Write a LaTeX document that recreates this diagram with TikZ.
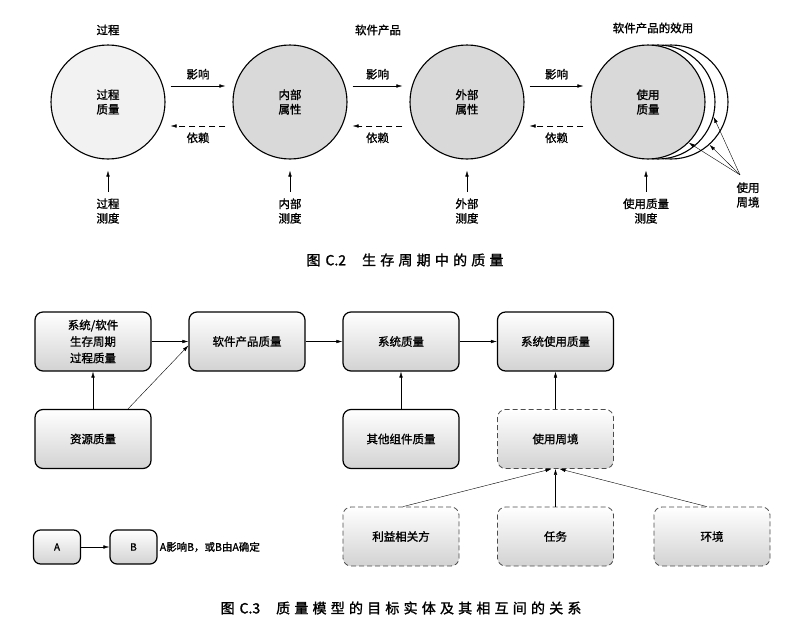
\documentclass[tikz,border=0pt]{standalone}
\usepackage{fontspec}
\setmainfont{Noto Sans CJK SC}[FakeBold=1.2]
\newfontfamily\capfont[LetterSpace=30,FakeBold=1.5]{Noto Sans CJK SC}
\newfontfamily\capnum[FakeBold=1.5]{Noto Sans CJK SC}
\usetikzlibrary{arrows.meta}
\begin{document}
\begin{tikzpicture}[x=1pt, y=-1pt,
        >={Latex[length=6pt,width=3.5pt]},
        txt/.style={font=\fontsize{11.5}{14.5}\selectfont, align=center},
        ball/.style={circle, draw, line width=1.1pt, minimum size=114pt, inner sep=0pt, txt},
        qbox/.style={draw, rounded corners=8pt, line width=1.2pt, minimum width=116pt, minimum height=59pt, top color=white, bottom color=gray!35, txt},
        dbox/.style={qbox, draw=black!70, line width=0.8pt, dash pattern=on 5pt off 3pt},
        small/.style={qbox, minimum width=47pt, minimum height=34pt, rounded corners=7pt, font=\fontsize{10}{12}\selectfont},
        capt/.style={font={\fontsize{14}{16}\capnum}}]
    \useasboundingbox (0,0) rectangle (807,640);
    \node[ball, fill=gray!10] (pq) at (108,102) {过程\\质量};
    \node[ball, fill=gray!30] (ia) at (290,102) {内部\\属性};
    \node[ball, fill=gray!30] (ea) at (467,102) {外部\\属性};
    \node[ball, fill=white] (ctxb) at (671,102) {};
    \node[ball, fill=white] (ctxa) at (658,102) {};
    \node[ball, fill=gray!30] (qu) at (648,102) {使用\\质量};
    \node[txt] (tp) at (108,30) {过程};
    \node[txt] (tsp) at (378,30) {软件产品};
    \node[txt] (teff) at (653,28) {软件产品的效用};
    \foreach \a/\b in {pq/ia, ia/ea, ea/qu} {
        \draw[->] ([shift={(5,-16)}]\a.east) -- ([shift={(-7,-16)}]\b.west) node[midway, above=3pt, txt] {影响};
        \draw[->, dash pattern=on 6pt off 4pt] ([shift={(-7,24)}]\b.west) -- ([shift={(5,24)}]\a.east) node[midway, below=3pt, txt] {依赖};
    }
    \foreach \n/\t/\x in {pq/过程/108, ia/内部/290, ea/外部/467, qu/使用质量/646} {
        \node[txt] (\n-m) at (\x,211) {\t\\测度};
        \draw[->, shorten <=3pt, shorten >=11pt] (\n-m.north) -- (\n-m.north |- \n.south);
    }
    \node[txt] (ctxl) at (748,195) {使用\\周境};
    \coordinate (ctxp) at ([shift={(-8,-4)}]ctxl.north);
    \draw[->] (ctxp) -- (ctxa.-15);
    \draw[->] (ctxp) -- (qu.-45);
    \draw[->] (ctxp) -- (ctxb.-48);
    \node[capt] (cap2) at (405,260) {{\capfont 图}\hspace{5pt}C.2\hspace{16pt}{\capfont 生存周期中的质量}};

    \node[qbox, font=\fontsize{11.5}{16.5}\selectfont] (lc) at (93,341.5) {系统/软件\\生存周期\\过程质量};
    \node[qbox] (spq) at (247,341.5) {软件产品质量};
    \node[qbox] (sq) at (401,341.5) {系统质量};
    \node[qbox] (suq) at (555.5,341.5) {系统使用质量};
    \node[qbox] (rq) at (93,439) {资源质量};
    \node[qbox] (ocq) at (401,439) {其他组件质量};
    \node[dbox] (uctx) at (555.5,439) {使用周境};
    \node[dbox] (sh) at (401,536.5) {利益相关方};
    \node[dbox] (task) at (555.5,536.5) {任务};
    \node[dbox] (env) at (712,536.5) {环境};
    \draw[->] (lc) -- (spq);
    \draw[->] (rq) -- (lc);
    \draw[->] ([xshift=35pt]rq.north) -- ([yshift=-4pt]spq.west);
    \draw[->] (spq) -- (sq);
    \draw[->] (ocq) -- (sq);
    \draw[->] (sq) -- (suq);
    \draw[->] (uctx) -- (suq);
    \draw[->] ([xshift=2pt]sh.north) -- ([xshift=-4pt]uctx.south);
    \draw[->] (task) -- (uctx);
    \draw[->] ([xshift=-5pt]env.north) -- ([xshift=4pt]uctx.south);
    \node[small] (la) at (57,547) {A};
    \node[small] (lb) at (133.5,547) {B};
    \draw[->] (la) -- (lb);
    \node[txt, font=\fontsize{10.5}{12}\selectfont, anchor=west, inner sep=2pt] (lt) at (lb.east) {A影响B，或B由A确定};
    \node[capt] (cap3) at (401,608) {{\capfont 图}\hspace{5pt}C.3\hspace{16pt}{\capfont 质量模型的目标实体及其相互间的关系}};
\end{tikzpicture}
\end{document}
